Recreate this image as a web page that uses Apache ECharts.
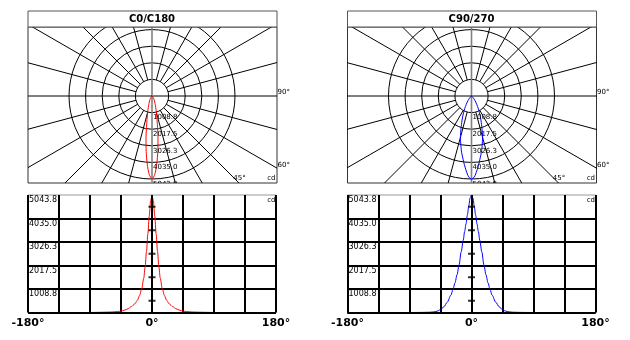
<!DOCTYPE html>
<html><head><meta charset="utf-8">
<script src="https://cdn.jsdelivr.net/npm/echarts@6/dist/echarts.min.js"></script>
<style>html,body{margin:0;padding:0;background:#fff}#c{width:630px;height:340px}</style>
</head><body><div id="c"></div>
<script>
// ---- data ----
const angles = [-180,-90,-80,-70,-60,-55,-50,-45,-40,-35,-30,-27,-24,-21,-18,-15,-12,-10,-8,-6,-4,-2,0,2,4,6,8,10,12,15,18,21,24,27,30,35,40,45,50,55,60,70,80,90,180];
const c0c180 = [0,0,6,12,20,28,40,60,100,160,250,320,410,540,730,1010,1470,1950,2620,3380,4150,4780,5043.8,4780,4150,3380,2620,1950,1470,1010,730,540,410,320,250,160,100,60,40,28,20,12,6,0,0];
const c90c270 = [0,0,2,5,12,25,55,120,250,450,740,980,1270,1620,2050,2600,3100,3470,3800,4180,4570,4920,5043.8,4920,4570,4180,3800,3470,3100,2600,2050,1620,1270,980,740,450,250,120,55,25,12,5,2,0,0];
const ringValues = [1008.8, 2017.5, 3026.3, 4035.0, 5043.8];
const ringLabels = ['1008.8','2017.5','3026.3','4035.0','5043.8'];
const spokeAngles = [0,15,30,45,60,75,90,105,120,135,150,165,180,195,210,225,240,255,270,285,300,315,330,345];
const xTickValues = [-180, 0, 180];
const xTickLabels = ['-180°', '0°', '180°'];
const titles = ['C0/C180', 'C90/270'];
const curveColors = ['#ff0000', '#0000ff'];
const seriesList = [c0c180, c90c270];

// ---- layout ----
const FONT = '"DejaVu Sans", Verdana, sans-serif';
const PX_PER_RING = 16.6;
const K = ringValues[0] / PX_PER_RING; // cd per px
const YMAX = ringValues[ringValues.length - 1];
const YSTEP = YMAX / 5;
const OFFS = [0, 319.5];

const chart = echarts.init(document.getElementById('c'), null, {renderer: 'canvas'});

const grids = [], xAxes = [], yAxes = [], series = [], graphics = [];

function polarPts(vals) {
  return angles.map((a, i) => {
    const I = Math.abs(a) <= 90 ? vals[i] : 0;
    const t = a * Math.PI / 180;
    return [I * Math.sin(t), -I * Math.cos(t)];
  });
}

OFFS.forEach((dx, ci) => {
  const boxL = 28 + dx, boxT = 27, boxW = 249, boxH = 156;
  const cx = 152 + dx, cy = 96;
  const gp = grids.length;
  grids.push({left: boxL, top: boxT, width: boxW, height: boxH, show: true,
    borderColor: '#333', borderWidth: 1, backgroundColor: '#fff', containLabel: false});
  xAxes.push({gridIndex: gp, type: 'value', min: -(cx - boxL) * K, max: (boxL + boxW - cx) * K, show: false});
  yAxes.push({gridIndex: gp, type: 'value', min: -(boxT + boxH - cy) * K, max: (cy - boxT) * K, show: false});

  // rings
  series.push({type: 'custom', xAxisIndex: gp, yAxisIndex: gp, clip: true, silent: true, z: 1,
    data: ringValues.map(v => [v]),
    renderItem: (p, api) => {
      const c = api.coord([0, 0]);
      const r = api.size([api.value(0), 0])[0];
      return {type: 'circle', shape: {cx: c[0], cy: c[1], r: r},
        style: {fill: 'none', stroke: '#000', lineWidth: 1}};
    }});
  // spokes
  series.push({type: 'custom', xAxisIndex: gp, yAxisIndex: gp, clip: true, silent: true, z: 1,
    data: spokeAngles.map(v => [v]),
    renderItem: (p, api) => {
      const deg = api.value(0);
      const t = deg * Math.PI / 180;
      const full = deg % 90 === 0;
      const r0 = full ? 0 : ringValues[0];
      const R = 12000;
      const p0 = api.coord([r0 * Math.sin(t), -r0 * Math.cos(t)]);
      const p1 = api.coord([R * Math.sin(t), -R * Math.cos(t)]);
      const vertical = deg % 180 === 0;
      return {type: 'line', shape: {x1: p0[0], y1: p0[1], x2: p1[0], y2: p1[1]},
        style: {stroke: vertical ? '#808080' : '#000', lineWidth: vertical ? 1.6 : 1}};
    }});
  // curve
  series.push({type: 'line', xAxisIndex: gp, yAxisIndex: gp, data: polarPts(seriesList[ci]),
    showSymbol: false, smooth: 0.25, z: 3, silent: true,
    lineStyle: {color: curveColors[ci], width: 1}});
  // ring labels
  series.push({type: 'custom', xAxisIndex: gp, yAxisIndex: gp, clip: true, silent: true, z: 4,
    data: ringValues.map((v, i) => [v, i]),
    renderItem: (p, api) => {
      const pt = api.coord([0, -api.value(0)]);
      return {type: 'text', style: {text: ringLabels[api.value(1)], x: pt[0] + 1, y: pt[1] + 1.5,
        font: '7px ' + FONT, fill: '#000', align: 'left', verticalAlign: 'top'}};
    }});

  // title band
  graphics.push({type: 'rect', shape: {x: boxL, y: 11, width: boxW, height: 16},
    style: {fill: '#fff', stroke: '#555', lineWidth: 1}, z: 10});
  graphics.push({type: 'text', x: cx, y: 19.5, style: {text: titles[ci], font: 'bold 10px ' + FONT,
    fill: '#000', align: 'center', verticalAlign: 'middle'}, z: 11});
  // side labels
  const sideFont = '7px ' + FONT;
  graphics.push({type: 'text', x: boxL + boxW + 0.5, y: 92, style: {text: '90°', font: sideFont, fill: '#000', align: 'left', verticalAlign: 'middle'}, z: 11});
  graphics.push({type: 'text', x: boxL + boxW + 0.5, y: 165, style: {text: '60°', font: sideFont, fill: '#000', align: 'left', verticalAlign: 'middle'}, z: 11});
  graphics.push({type: 'text', x: 239.5 + dx, y: 178, style: {text: '45°', font: sideFont, fill: '#000', align: 'center', verticalAlign: 'middle'}, z: 11});
  graphics.push({type: 'text', x: 275.5 + dx, y: 178, style: {text: 'cd', font: sideFont, fill: '#000', align: 'right', verticalAlign: 'middle'}, z: 11});
  graphics.push({type: 'text', x: 275.5 + dx, y: 200.5, style: {text: 'cd', font: sideFont, fill: '#000', align: 'right', verticalAlign: 'middle'}, z: 11});

  // ---- cartesian chart ----
  const gc = grids.length;
  grids.push({left: 28 + dx, top: 195, width: 248, height: 117.5, show: true,
    borderColor: '#999', borderWidth: 1, backgroundColor: '#fff'});
  xAxes.push({gridIndex: gc, type: 'value', min: -180, max: 180, interval: 45,
    axisLine: {show: false}, axisTick: {show: false},
    splitLine: {show: true, lineStyle: {color: '#000', width: 2}},
    axisLabel: {show: true, margin: 5, showMinLabel: true, showMaxLabel: true, hideOverlap: false,
      color: '#000', fontFamily: FONT, fontWeight: 'bold', fontSize: 11,
      formatter: v => { const i = xTickValues.indexOf(v); return i < 0 ? '' : xTickLabels[i]; }}});
  yAxes.push({gridIndex: gc, type: 'value', min: 0, max: YMAX, interval: YSTEP,
    axisLine: {show: false}, axisTick: {show: false},
    splitLine: {show: true, showMaxLine: false, lineStyle: {color: '#000', width: 2}},
    axisLabel: {show: true, inside: true, margin: 1, showMaxLabel: true, color: '#000',
      fontFamily: FONT, fontSize: 8, align: 'left', verticalAlign: 'top', padding: [1, 0, 0, 0],
      formatter: v => { const i = Math.round(v / YSTEP) - 1; return i >= 0 ? ringLabels[i] : ''; }}});
  series.push({type: 'line', xAxisIndex: gc, yAxisIndex: gc,
    data: angles.map((a, i) => [a, seriesList[ci][i]]),
    showSymbol: false, smooth: 0.3, smoothMonotone: 'x', z: 3, silent: true,
    lineStyle: {color: curveColors[ci], width: 1}});
  series.push({type: 'scatter', xAxisIndex: gc, yAxisIndex: gc, silent: true, z: 4,
    symbol: 'rect', symbolSize: [7, 2], itemStyle: {color: '#000'},
    data: ringValues.map((v, i) => [0, (i + 0.5) * YSTEP]),
    markLine: {silent: true, symbol: 'none', label: {show: false}, animation: false,
      lineStyle: {color: '#000', width: 2, type: 'solid'},
      data: [{yAxis: 0}, {xAxis: 0}]}});
});

chart.setOption({
  animation: false,
  backgroundColor: '#fff',
  grid: grids, xAxis: xAxes, yAxis: yAxes, series: series,
  graphic: graphics
});
</script></body></html>
